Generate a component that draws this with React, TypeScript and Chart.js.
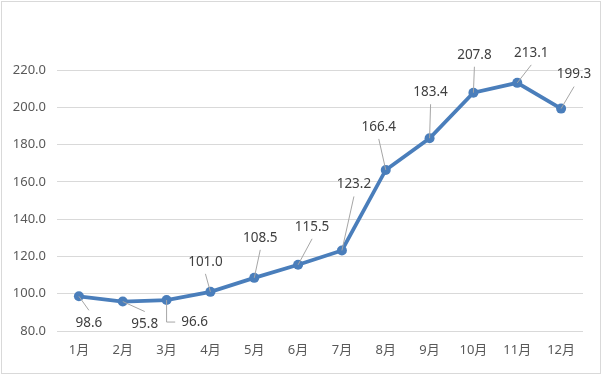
import React, { useEffect, useRef } from "react";
import { Chart, registerables } from "chart.js";

Chart.register(...registerables);

const months = ["1月", "2月", "3月", "4月", "5月", "6月", "7月", "8月", "9月", "10月", "11月", "12月"];
const values = [98.6, 95.8, 96.6, 101.0, 108.5, 115.5, 123.2, 166.4, 183.4, 207.8, 213.1, 199.3];
const yMin = 80;
const yMax = 220;
const yStep = 20;

// label placement (style): offset of label centre from its point, and leader kind
const labelOffsets: [number, number][] = [
  [10, 27], [22, 23], [28, 22], [-5, -30], [6, -40], [14, -38],
  [12, -66], [-7, -43], [1, -46], [1, -38], [14, -30], [13, -34],
];
const elbowLeader = [false, false, true, false, false, false, false, false, false, false, false, false];

const LINE_COLOR = "#4a7ebb";
const FONT = "'Noto Sans', 'Noto Sans CJK SC', sans-serif";

const labelPlugin = {
  id: "dataLabelsLeaders",
  afterDatasetsDraw(chart: any) {
    const ctx = chart.ctx;
    const meta = chart.getDatasetMeta(0);
    ctx.save();
    ctx.font = `13.5px ${FONT}`;
    ctx.textAlign = "center";
    ctx.textBaseline = "middle";
    meta.data.forEach((pt: any, i: number) => {
      const [dx, dy] = labelOffsets[i];
      const lx = pt.x + dx;
      const ly = pt.y + dy;
      const txt = values[i].toFixed(1);
      const w = ctx.measureText(txt).width;
      ctx.strokeStyle = "#a6a6a6";
      ctx.lineWidth = 1;
      ctx.beginPath();
      if (elbowLeader[i]) {
        ctx.moveTo(pt.x, pt.y);
        ctx.lineTo(pt.x, ly);
        ctx.lineTo(lx - w / 2 - 6, ly);
      } else {
        ctx.moveTo(pt.x, pt.y);
        const ey = dy < 0 ? ly + 12 : ly - 13;
        ctx.lineTo(lx, ey);
      }
      ctx.stroke();
      ctx.fillStyle = "#404040";
      ctx.fillText(txt, lx, ly);
    });
    ctx.restore();
  },
};

const frameBorder = {
  id: "frameBorder",
  beforeDraw(chart: any) {
    const ctx = chart.ctx;
    ctx.save();
    ctx.fillStyle = "#ffffff";
    ctx.fillRect(0, 0, chart.width, chart.height);
    ctx.strokeStyle = "#d9d9d9";
    ctx.lineWidth = 1;
    ctx.strokeRect(1.5, 1.5, chart.width - 3, chart.height - 2);
    ctx.restore();
  },
};

export default function App() {
  const ref = useRef<HTMLCanvasElement>(null);
  useEffect(() => {
    document.body.style.margin = "0";
    const chart = new Chart(ref.current!, {
      type: "line",
      data: {
        labels: months,
        datasets: [
          {
            data: values,
            borderColor: LINE_COLOR,
            backgroundColor: LINE_COLOR,
            borderWidth: 3.75,
            pointRadius: 5,
            pointBorderWidth: 0,
            tension: 0,
          },
        ],
      },
      options: {
        responsive: false,
        animation: false,
        layout: { padding: { top: 70, right: 19, left: 0, bottom: 0 } },
        plugins: { legend: { display: false }, tooltip: { enabled: false } },
        scales: {
          x: {
            offset: true,
            grid: { display: false, drawTicks: false },
            border: { display: false },
            ticks: { color: "#595959", font: { family: FONT, size: 13 }, padding: 11 },
            afterFit: (s: any) => { s.height = 43; },
          },
          y: {
            min: yMin,
            max: yMax,
            ticks: {
              stepSize: yStep,
              color: "#595959",
              font: { family: FONT, size: 13 },
              padding: 11,
              callback: (v: any) => Number(v).toFixed(1),
            },
            grid: { color: "#d9d9d9", drawTicks: false },
            border: { display: false },
            afterFit: (s: any) => { s.width = 57; },
          },
        },
      },
      plugins: [frameBorder, labelPlugin],
    });
    return () => chart.destroy();
  }, []);
  return (
    <div style={{ position: "absolute", left: 0, top: 0, width: 602, height: 374 }}>
      <canvas ref={ref} width={602} height={374} />
    </div>
  );
}
